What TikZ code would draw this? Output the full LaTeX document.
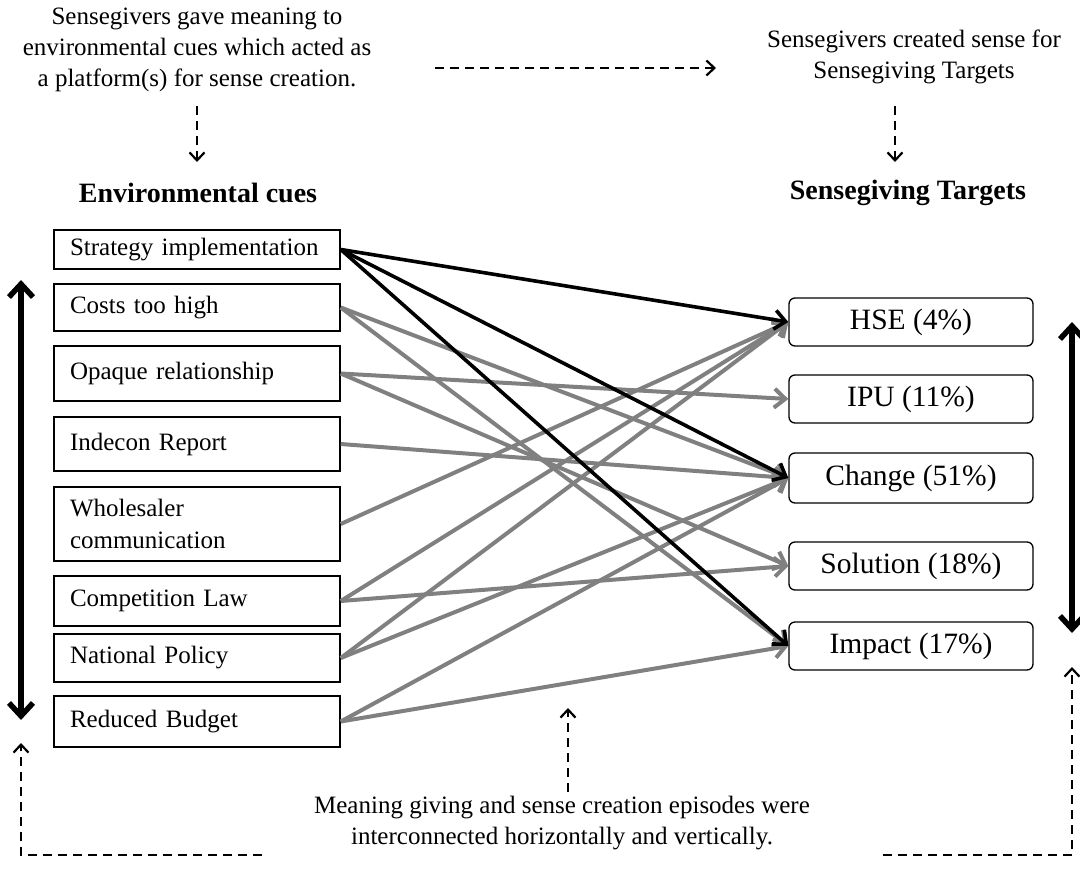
\documentclass[tikz,border=0pt]{standalone}
\usepackage{fontspec}
\setmainfont{Liberation Serif}
\usetikzlibrary{arrows.meta}
\definecolor{lgray}{RGB}{128,128,128}
\begin{document}
\begin{tikzpicture}[x=1pt,y=-1pt,
  lbox/.style={draw, line width=1.5pt, text width=254pt, align=left, inner xsep=16pt, inner ysep=0pt, font=\fontsize{25}{32}\selectfont},
  rbox/.style={draw, rounded corners=6pt, line width=1.3pt, minimum width=244pt, minimum height=48pt, inner sep=0pt, font=\fontsize{29.5}{34}\selectfont},
  txt/.style={align=center, inner sep=0pt, font=\fontsize{25}{31}\selectfont},
  head/.style={inner sep=0pt, font=\fontsize{28}{32}\selectfont\bfseries},
  glink/.style={draw=lgray, line width=4pt, -{Straight Barb[length=11pt,width=19pt]}},
  blink/.style={draw=black, line width=3.6pt, -{Straight Barb[length=11pt,width=19pt]}},
  bigarrow/.style={line width=5.5pt, {Straight Barb[length=13pt,width=24pt]}-{Straight Barb[length=13pt,width=24pt]}},
  dashline/.style={line width=2.4pt, dash pattern=on 9pt off 6pt},
  dasharrow/.style={dashline, -{Straight Barb[length=8pt,width=15pt,line width=2.2pt]}}
]
\useasboundingbox (0,0) rectangle (1080,876);

% top texts
\node[txt] (tl) at (197,50) {Sensegivers gave meaning to\\environmental cues which acted as\\a platform(s) for sense creation.};
\node[txt] (tr) at (914,57) {Sensegivers created sense for\\Sensegiving Targets};
\node[head] (hl) at (198,193) {Environmental cues};
\node[head] (hr) at (908,193) {Sensegiving Targets};

% left boxes
\node[lbox, minimum height=39pt] (s1) at (197,249.5) {Strategy implementation};
\node[lbox, minimum height=47pt] (s2) at (197,307.5) {Costs too high};
\node[lbox, minimum height=55pt] (s3) at (197,373.5) {Opaque relationship};
\node[lbox, minimum height=54pt] (s4) at (197,444) {Indecon Report};
\node[lbox, minimum height=74pt] (s5) at (197,524) {Wholesaler\\communication};
\node[lbox, minimum height=50pt] (s6) at (197,601) {Competition Law};
\node[lbox, minimum height=48pt] (s7) at (197,658) {National Policy};
\node[lbox, minimum height=51pt] (s8) at (197,721.5) {Reduced Budget};

% right boxes
\node[rbox] (t1) at (911,322) {HSE (4\%)};
\node[rbox] (t2) at (911,399) {IPU (11\%)};
\node[rbox, minimum height=50pt] (t3) at (911,478) {Change (51\%)};
\node[rbox] (t4) at (911,566) {Solution (18\%)};
\node[rbox] (t5) at (911,646) {Impact (17\%)};

% gray links
\draw[glink] (s2.east) -- (t3.west);
\draw[glink] (s2.east) -- (t5.west);
\draw[glink] (s3.east) -- (t2.west);
\draw[glink] (s3.east) -- (t4.west);
\draw[glink] (s4.east) -- (t3.west);
\draw[glink] (s5.east) -- (t1.west);
\draw[glink] (s6.east) -- (t1.west);
\draw[glink] (s6.east) -- (t4.west);
\draw[glink] (s7.east) -- (t1.west);
\draw[glink] (s7.east) -- (t3.west);
\draw[glink] (s8.east) -- (t3.west);
\draw[glink] (s8.east) -- (t5.west);
% black links
\draw[blink] (s1.east) -- (t1.west);
\draw[blink] (s1.east) -- (t3.west);
\draw[blink] (s1.east) -- (t5.west);

% big double arrows
\coordinate (la) at (21,280);
\coordinate (lb) at (21,720);
\coordinate (ra) at (1072,322);
\coordinate (rb) at (1072,633);
\draw[bigarrow] (la) -- (lb);
\draw[bigarrow] (ra) -- (rb);

% dashed arrows
\coordinate (h1) at (435,68);
\coordinate (h2) at (716,68);
\draw[dasharrow] (h1) -- (h2);
\coordinate (d1) at (197,106);
\coordinate (d2) at (197,162);
\draw[dasharrow] (d1) -- (d2);
\coordinate (d3) at (895,106);
\coordinate (d4) at (895,162);
\draw[dasharrow] (d3) -- (d4);

\node[txt] (bt) at (562,823) {Meaning giving and sense creation episodes were\\interconnected horizontally and vertically.};
\coordinate (u1) at (568,792);
\coordinate (u2) at (568,708);
\draw[dasharrow] (u1) -- (u2);

\coordinate (bl1) at (262,855);
\coordinate (bl2) at (21,855);
\coordinate (bl3) at (21,743);
\draw[dasharrow] (bl1) -- (bl2) -- (bl3);
\coordinate (br1) at (883,855);
\coordinate (br2) at (1072,855);
\coordinate (br3) at (1072,667);
\draw[dasharrow] (br1) -- (br2) -- (br3);
\end{tikzpicture}
\end{document}
